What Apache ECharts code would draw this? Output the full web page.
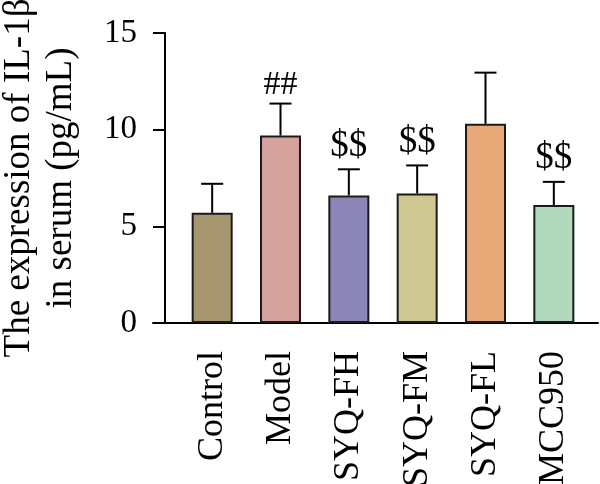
<!DOCTYPE html>
<html>
<head>
<meta charset="utf-8">
<script src="https://cdn.jsdelivr.net/npm/echarts@6/dist/echarts.min.js"></script>
<style>
  html, body { margin: 0; padding: 0; background: #fff; }
  #main { width: 600px; height: 484px; }
</style>
</head>
<body>
<div id="main"></div>
<script>
// groups and values
const categories = ["Control", "Model", "SYQ-FH", "SYQ-FM", "SYQ-FL", "MCC950"];
const means = [5.7, 9.7, 6.6, 6.7, 10.3, 6.1];
const errors = [1.5, 1.65, 1.35, 1.45, 2.65, 1.2];
const marks = ["", "##", "$$", "$$", "", "$$"];
const barColors = ["#A69670", "#D4A19D", "#8C86B6", "#CFC893", "#E9A877", "#B0D9BE"];
const yMin = 0, yMax = 15, yStep = 5;

const font = "Liberation Serif";
const chart = echarts.init(document.getElementById("main"));

chart.setOption({
  animation: false,
  backgroundColor: "#fff",
  grid: [
    { left: 178, right: 12, top: 33, bottom: 161, outerBoundsMode: "none", containLabel: false },
    // just for the long baseline under the y ticks
    { left: 153, right: 2, top: 33, bottom: 161, outerBoundsMode: "none", containLabel: false }
  ],
  xAxis: [
    {
      type: "category",
      data: categories,
      gridIndex: 0,
      axisLine: { lineStyle: { color: "#000", width: 2 } },
      axisTick: { alignWithLabel: true, length: 13, lineStyle: { color: "#000", width: 2 } },
      axisLabel: { rotate: 90, margin: 28, color: "#000", fontFamily: font, fontSize: 36 }
    },
    {
      type: "value",
      gridIndex: 1,
      min: 0,
      max: 1,
      axisLine: { show: true, onZero: false, lineStyle: { color: "#000", width: 2 } },
      axisTick: { show: false },
      axisLabel: { show: false },
      splitLine: { show: false }
    }
  ],
  yAxis: [
    {
      type: "value",
      gridIndex: 0,
      min: yMin,
      max: yMax,
      interval: yStep,
      offset: 13,
      name: "The expression of IL-1β\nin serum (pg/mL)",
      nameLocation: "middle",
      nameGap: 83,
      nameTextStyle: { color: "#000", fontFamily: font, fontSize: 37, lineHeight: 42 },
      axisLine: { show: true, lineStyle: { color: "#000", width: 2 } },
      axisTick: { show: true, length: 12, lineStyle: { color: "#000", width: 2 } },
      axisLabel: { margin: 28, color: "#000", fontFamily: font, fontSize: 33 },
      splitLine: { show: false }
    },
    { type: "value", gridIndex: 1, show: false }
  ],
  series: [
    {
      type: "bar",
      xAxisIndex: 0,
      yAxisIndex: 0,
      barWidth: 41,
      data: means.map((v, i) => ({
        value: v,
        itemStyle: { color: barColors[i], borderColor: "#1a1a1a", borderWidth: 2 }
      }))
    },
    {
      type: "custom",
      xAxisIndex: 0,
      yAxisIndex: 0,
      clip: false,
      z: 3,
      data: means.map((v, i) => [i, v, v + errors[i]]),
      renderItem: function (params, api) {
        const i = api.value(0);
        const base = api.coord([i, api.value(1)]);
        const top = api.coord([i, api.value(2)]);
        const half = 11;
        const style = { stroke: "#000", lineWidth: 2 };
        const children = [
          { type: "line", shape: { x1: base[0], y1: base[1], x2: top[0], y2: top[1] }, style: style },
          { type: "line", shape: { x1: top[0] - half, y1: top[1], x2: top[0] + half, y2: top[1] }, style: style }
        ];
        const m = marks[params.dataIndex];
        if (m) {
          children.push({
            type: "text",
            style: {
              text: m,
              x: top[0],
              y: top[1] - (m === "##" ? 1 : 5),
              align: "center",
              verticalAlign: "bottom",
              fill: "#000",
              font: (m === "##" ? "34px " : "37px ") + font
            }
          });
        }
        return { type: "group", children: children };
      }
    }
  ]
});
</script>
</body>
</html>
